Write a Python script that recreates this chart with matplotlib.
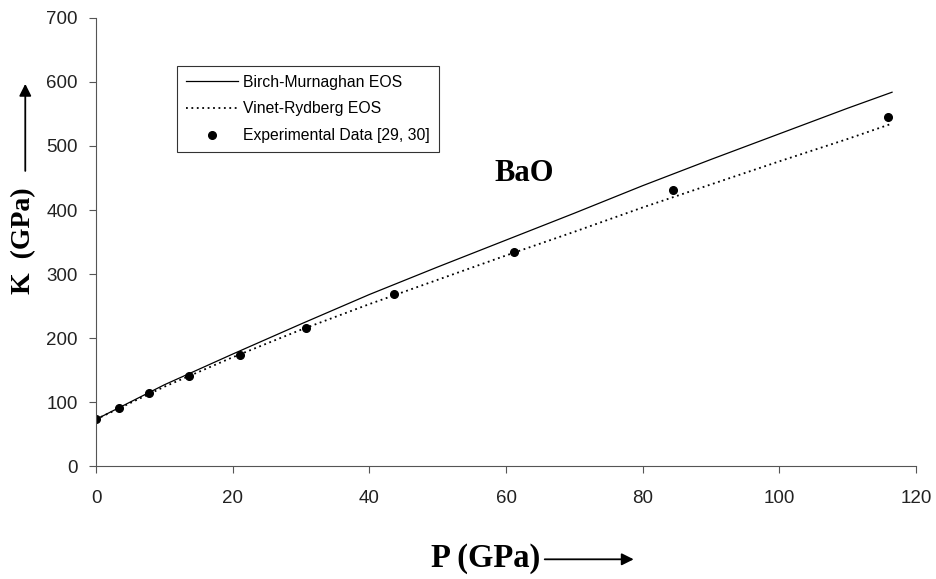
import numpy as np
import matplotlib.pyplot as plt

# Birch-Murnaghan and Vinet-Rydberg curves for BaO
p_curve = [0, 10, 20, 30, 40, 50, 60, 70, 80, 90, 100, 110, 116.5]
k_birch = [73, 127, 175, 222, 268, 311, 353, 395, 438, 479, 519, 559, 584]
k_vinet = [73, 124, 170, 213, 253, 291, 329, 366, 404, 440, 476, 511, 535]

# experimental points [29, 30]
p_exp = [0, 3.4, 7.7, 13.6, 21.0, 30.8, 43.6, 61.2, 84.5, 115.9]
k_exp = [73, 91, 114, 141, 173, 216, 269, 334, 431, 545]

fig = plt.figure(figsize=(9.36, 5.79), dpi=100)
ax = fig.add_axes([0.1026, 0.195, 0.876, 0.774])

ax.plot(p_curve, k_birch, color='black', lw=0.9, label='Birch-Murnaghan EOS')
ax.plot(p_curve, k_vinet, color='black', lw=1.3, ls=(0, (1, 2)), label='Vinet-Rydberg EOS')
ax.plot(p_exp, k_exp, 'o', color='black', ms=5.5, label='Experimental Data [29, 30]')

ax.set_xlim(0, 120)
ax.set_ylim(0, 700)
ax.set_xticks(np.arange(0, 121, 20))
ax.set_yticks(np.arange(0, 701, 100))
ax.spines['top'].set_visible(False)
ax.spines['right'].set_visible(False)
for s in ['left', 'bottom']:
    ax.spines[s].set_color('#555555')
ax.tick_params(direction='out', length=5, color='#555555', labelsize=13.5)
ax.tick_params(axis='x', pad=12)
ax.tick_params(axis='y', pad=8)
for lab in ax.get_xticklabels() + ax.get_yticklabels():
    lab.set_family('Liberation Sans')
    lab.set_color('#222222')

leg = ax.legend(loc='upper left', bbox_to_anchor=(0.099, 0.893), frameon=True, fancybox=False,
                edgecolor='black', prop={'family': 'Liberation Sans', 'size': 11.3},
                handlelength=3.3, handletextpad=0.35, borderpad=0.55, labelspacing=0.75,
                borderaxespad=0)
leg.get_frame().set_linewidth(0.8)

ax.text(0.522, 0.652, 'BaO', transform=ax.transAxes, ha='center', va='center',
        family='Liberation Serif', fontweight='bold', fontsize=22)

# axis labels with arrows
fig.text(0.519, 0.036, 'P (GPa)', ha='center', va='center',
         family='Liberation Serif', fontweight='bold', fontsize=23.5)
fig.add_artist(plt.Annotation('', xy=(0.68, 0.034), xytext=(0.579, 0.034),
                              xycoords='figure fraction', textcoords='figure fraction',
                              arrowprops=dict(arrowstyle='-|>', color='black', lw=1.3,
                                              mutation_scale=18)))
fig.text(0.025, 0.585, 'K  (GPa)', ha='center', va='center', rotation=90,
         family='Liberation Serif', fontweight='bold', fontsize=20)
fig.add_artist(plt.Annotation('', xy=(0.027, 0.86), xytext=(0.027, 0.70),
                              xycoords='figure fraction', textcoords='figure fraction',
                              arrowprops=dict(arrowstyle='-|>', color='black', lw=1.3,
                                              mutation_scale=18)))

fig.savefig('out.png', dpi=100)
